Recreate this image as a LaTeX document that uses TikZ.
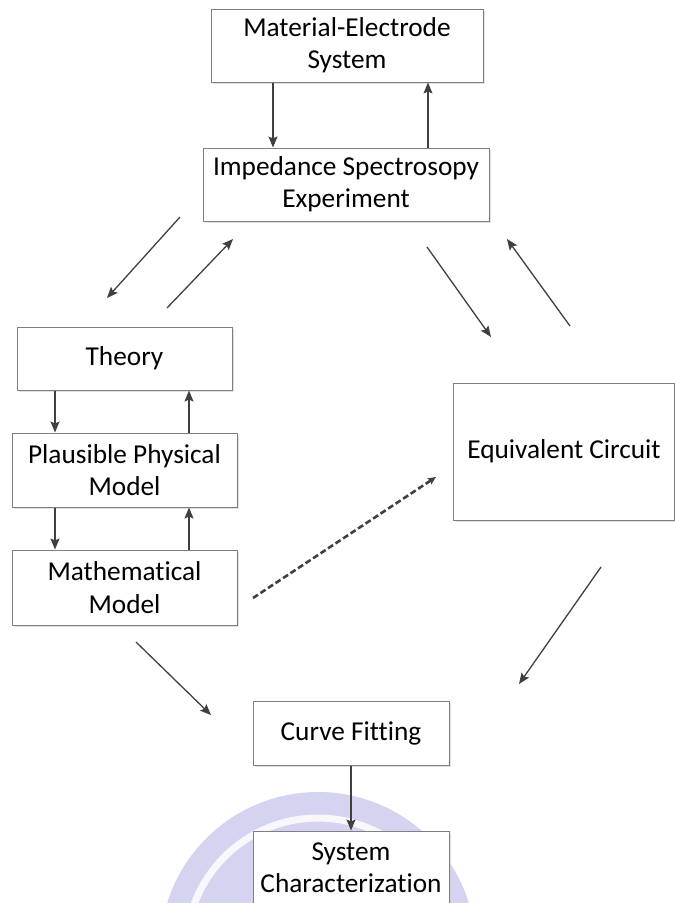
\documentclass[tikz,border=0pt]{standalone}
\usepackage{fontspec}
\setmainfont{Carlito}[Ligatures={NoCommon}]
\usetikzlibrary{arrows.meta,shadows}
\definecolor{boxline}{HTML}{7F7F7F}
\definecolor{arrline}{HTML}{404040}
\definecolor{wmark}{HTML}{D4D4F1}
\tikzset{
  box/.style={draw=boxline, line width=1pt, fill=white, align=center, inner sep=0pt,
    font=\fontsize{27.3}{32.3}\selectfont, text=black,
    drop shadow={shadow xshift=1.5pt, shadow yshift=-1.5pt, fill=black!20, opacity=0.6}},
  arr/.style={draw=arrline, line width=1.3pt, -{Stealth[length=11pt,width=9pt,inset=2pt]}},
  dasharr/.style={draw=arrline, line width=2.6pt, dash pattern=on 6pt off 3pt,
    -{Stealth[length=8pt,width=7pt,inset=1.5pt]}}
}
\begin{document}
\begin{tikzpicture}[x=1pt,y=-1pt]
\useasboundingbox (0,0) rectangle (675,903);
% watermark
\begin{scope}
\clip (0,0) rectangle (675,903);
\fill[wmark] (318,950) circle[radius=158];
\draw[white, line width=7pt, opacity=0.85] (318,950) ++(200:132) arc[start angle=200, end angle=300, radius=132];
\draw[white, line width=5pt, opacity=0.7] (318,950) ++(235:108) arc[start angle=235, end angle=330, radius=108];
\end{scope}
% boxes
\node[box, minimum width=272pt, minimum height=73pt] (mat) at (347,45.5) {Material-Electrode\\System};
\node[box, minimum width=286pt, minimum height=73pt] (imp) at (346,184.5) {Impedance Spectrosopy\\Experiment};
\node[box, minimum width=215pt, minimum height=63pt] (theory) at (124.5,358.5) {Theory};
\node[box, minimum width=225pt, minimum height=74pt] (plaus) at (124.5,470) {Plausible Physical\\Model};
\node[box, minimum width=225pt, minimum height=75pt] (math) at (124.5,587.5) {Mathematical\\Model};
\node[box, minimum width=221pt, minimum height=137pt] (equiv) at (564,451.5) {Equivalent Circuit};
\node[box, minimum width=196pt, minimum height=64pt] (curve) at (351,733) {Curve Fitting};
\node[box, minimum width=196pt, minimum height=74pt] (sysc) at (351,868) {System\\Characterization};
% vertical arrows
\draw[arr] (mat.south -| 273,0) -- (imp.north -| 273,0);
\draw[arr] (imp.north -| 428,0) -- (mat.south -| 428,0);
\draw[arr] (theory.south -| 55,0) -- (plaus.north -| 55,0);
\draw[arr] (plaus.north -| 189,0) -- (theory.south -| 189,0);
\draw[arr] (plaus.south -| 55,0) -- (math.north -| 55,0);
\draw[arr] (math.north -| 189,0) -- (plaus.south -| 189,0);
\draw[arr] (curve.south) -- (sysc.north);
% diagonal arrows (free ends)
\coordinate (a1s) at (180,217); \coordinate (a1e) at (107,298);
\coordinate (a2s) at (167,308); \coordinate (a2e) at (233,239);
\coordinate (a3s) at (427,247); \coordinate (a3e) at (491,337);
\coordinate (a4s) at (570,326); \coordinate (a4e) at (507,239);
\coordinate (a5s) at (253,598); \coordinate (a5e) at (436,477);
\coordinate (a6s) at (136,642); \coordinate (a6e) at (211,715);
\coordinate (a7s) at (601,567); \coordinate (a7e) at (519,684);
\draw[arr] (a1s) -- (a1e);
\draw[arr] (a2s) -- (a2e);
\draw[arr] (a3s) -- (a3e);
\draw[arr] (a4s) -- (a4e);
\draw[dasharr] (a5s) -- (a5e);
\draw[arr] (a6s) -- (a6e);
\draw[arr] (a7s) -- (a7e);
\end{tikzpicture}
\end{document}
